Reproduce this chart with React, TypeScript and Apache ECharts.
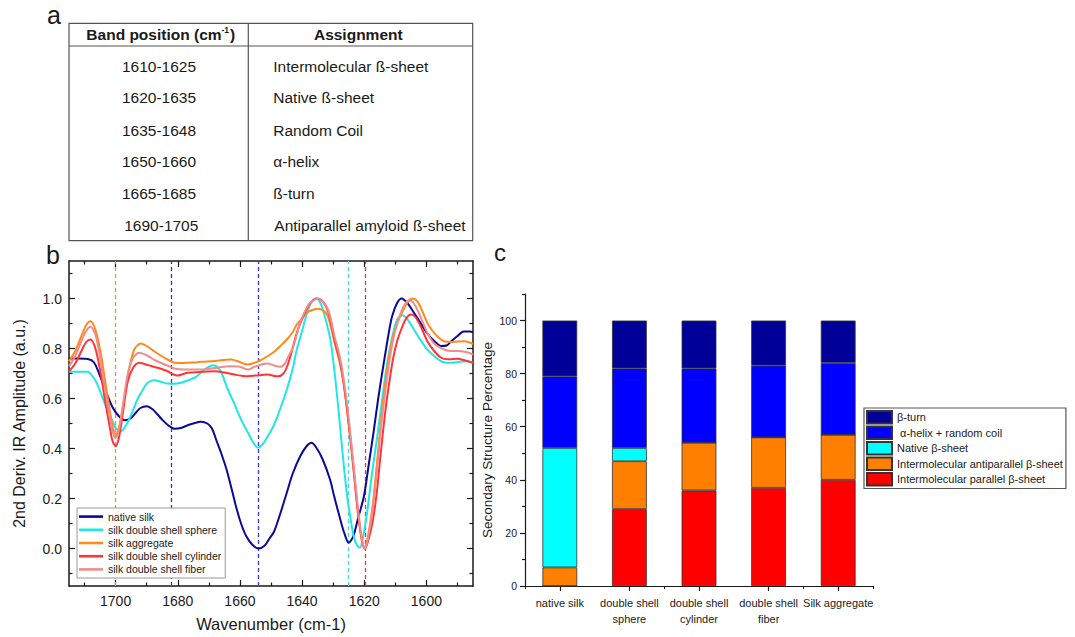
import React, { useEffect, useRef } from "react";
import * as echarts from "echarts";

// ---------- Panel a: table ----------
const bandPositions = ["1610-1625", "1620-1635", "1635-1648", "1650-1660", "1665-1685", "1690-1705"];
const assignments = ["Intermolecular ß-sheet", "Native ß-sheet", "Random Coil", "α-helix", "ß-turn", "Antiparallel amyloid ß-sheet"];

// ---------- Panel b: 2nd derivative spectra ([wavenumber, amplitude]) ----------
const nativeSilk = [
  [1715, 0.76], [1712, 0.76], [1709, 0.758], [1707, 0.745], [1705, 0.69], [1703, 0.625], [1701, 0.565], [1699, 0.53],
  [1697, 0.513], [1695, 0.522], [1693.5, 0.543], [1692, 0.562], [1690, 0.569], [1688, 0.556], [1686.5, 0.536], [1685, 0.515],
  [1683, 0.492], [1681, 0.479], [1679, 0.482], [1677, 0.492], [1675, 0.5], [1672.5, 0.507], [1670.5, 0.5], [1669, 0.48],
  [1667.5, 0.43], [1666, 0.38], [1664.3, 0.316], [1662.5, 0.23], [1661, 0.156], [1659.5, 0.095], [1658, 0.05], [1656, 0.015],
  [1654, 0.0], [1652, 0.012], [1650.5, 0.04], [1649, 0.068], [1647, 0.14], [1645, 0.22], [1643, 0.3], [1640.6, 0.369],
  [1638.5, 0.41], [1637, 0.423], [1635.5, 0.405], [1633.5, 0.36], [1631, 0.276], [1629.8, 0.215], [1627.7, 0.116], [1626.5, 0.065],
  [1625, 0.023], [1623.5, 0.05], [1622, 0.12], [1620.1, 0.209], [1618.5, 0.34], [1617, 0.465], [1615.5, 0.6], [1613.7, 0.743],
  [1612, 0.87], [1611, 0.93], [1609.5, 0.98], [1608, 1.0], [1606, 0.98], [1604, 0.943], [1602, 0.905], [1600, 0.865],
  [1597.5, 0.83], [1595.3, 0.81], [1593.5, 0.812], [1592, 0.829], [1590, 0.85], [1588, 0.868], [1586, 0.868], [1585, 0.865],
];
const doubleShellSphere = [
  [1715, 0.707], [1712, 0.707], [1709, 0.707], [1707.5, 0.69], [1706, 0.66], [1704.8, 0.623], [1703.5, 0.58], [1702, 0.54],
  [1700, 0.483], [1698.4, 0.469], [1696.2, 0.503], [1694.5, 0.55], [1693, 0.596], [1691, 0.64], [1689.7, 0.663], [1687.6, 0.673],
  [1685.5, 0.667], [1683.3, 0.66], [1681, 0.659], [1679, 0.663], [1676.8, 0.672], [1674.6, 0.683], [1673, 0.698], [1671.4, 0.716],
  [1669.5, 0.73], [1668.5, 0.733], [1667.2, 0.725], [1666, 0.705], [1663.9, 0.636], [1662, 0.585], [1660.6, 0.543], [1659, 0.5],
  [1657.4, 0.463], [1656, 0.43], [1654.2, 0.403], [1652.5, 0.42], [1651, 0.45], [1649.2, 0.49], [1647, 0.56], [1644.9, 0.636],
  [1643, 0.72], [1641.7, 0.796], [1640, 0.87], [1638.4, 0.943], [1637, 0.985], [1635.5, 1.0], [1634, 0.98], [1632.5, 0.92],
  [1630.9, 0.836], [1629.5, 0.7], [1628.2, 0.543], [1626.8, 0.36], [1625.5, 0.209], [1624.4, 0.12], [1623.4, 0.049], [1622.3, 0.012],
  [1621.4, 0.003], [1620.3, 0.05], [1619.1, 0.143], [1617.5, 0.3], [1615.8, 0.449], [1614.2, 0.6], [1612.6, 0.743], [1611, 0.845],
  [1609.4, 0.916], [1607.7, 0.933], [1606, 0.915], [1604, 0.876], [1602, 0.836], [1599.7, 0.796], [1597.5, 0.77], [1595.3, 0.749],
  [1593.5, 0.743], [1592, 0.743], [1590, 0.745], [1587.8, 0.749], [1585, 0.743],
];
const silkAggregate = [
  [1715, 0.749], [1713, 0.79], [1711, 0.85], [1709.5, 0.893], [1708.1, 0.909], [1706.5, 0.875], [1704.8, 0.783], [1703.5, 0.68],
  [1702.1, 0.569], [1701, 0.49], [1700, 0.455], [1699, 0.48], [1697.8, 0.556], [1696.5, 0.65], [1695.7, 0.716], [1694, 0.796],
  [1691.9, 0.82], [1690, 0.81], [1687.6, 0.789], [1685.5, 0.772], [1683.3, 0.756], [1681.1, 0.743], [1678, 0.742], [1675, 0.744],
  [1672.5, 0.747], [1668, 0.75], [1664.5, 0.755], [1662.8, 0.756], [1660.5, 0.748], [1658.5, 0.738], [1657.4, 0.736], [1655.5, 0.742],
  [1653.5, 0.752], [1651, 0.77], [1649.2, 0.785], [1647, 0.81], [1644.9, 0.836], [1643, 0.866], [1641.7, 0.896], [1640, 0.92],
  [1638.5, 0.943], [1636.5, 0.955], [1634.7, 0.959], [1633.2, 0.952], [1632, 0.936], [1631, 0.9], [1629.5, 0.82], [1628, 0.75],
  [1626.6, 0.66], [1625, 0.5], [1623.4, 0.32], [1622.2, 0.17], [1621.2, 0.07], [1620.5, 0.02], [1619.8, 0.0], [1619, 0.035],
  [1617.4, 0.16], [1616, 0.33], [1614.7, 0.5], [1613.3, 0.65], [1612, 0.77], [1610.7, 0.85], [1609.4, 0.9], [1608, 0.94],
  [1606, 0.985], [1604.5, 1.0], [1603, 0.99], [1601.5, 0.955], [1599.7, 0.903], [1598, 0.87], [1596, 0.843], [1594.3, 0.829],
  [1592, 0.826], [1590, 0.828], [1587.8, 0.829], [1585, 0.818],
];
const doubleShellCylinder = [
  [1715, 0.709], [1713, 0.74], [1711, 0.79], [1709.5, 0.825], [1708.1, 0.836], [1706.5, 0.8], [1704.8, 0.7], [1703.5, 0.6],
  [1702.1, 0.5], [1701, 0.43], [1700, 0.409], [1699, 0.44], [1697.8, 0.53], [1696.2, 0.663], [1694.5, 0.72], [1692.4, 0.743],
  [1690, 0.735], [1688, 0.728], [1686.5, 0.723], [1683.3, 0.709], [1681.5, 0.697], [1680, 0.692], [1678.5, 0.697], [1676.8, 0.703],
  [1672, 0.707], [1668.2, 0.709], [1665, 0.704], [1661.7, 0.696], [1659, 0.69], [1657.4, 0.689], [1655, 0.692], [1653, 0.694],
  [1651, 0.696], [1649, 0.69], [1647.6, 0.689], [1646, 0.7], [1644.9, 0.725], [1643.5, 0.78], [1642, 0.85], [1640.6, 0.9],
  [1638, 0.97], [1636.5, 0.993], [1635, 1.0], [1633.5, 0.99], [1632, 0.96], [1631, 0.92], [1629.5, 0.83], [1628, 0.76],
  [1626.6, 0.66], [1625, 0.5], [1623.4, 0.31], [1622.2, 0.16], [1621.2, 0.065], [1620.5, 0.018], [1619.8, 0.0], [1619, 0.02],
  [1617.4, 0.1], [1616, 0.22], [1614.7, 0.38], [1613.3, 0.54], [1612, 0.66], [1610.7, 0.76], [1609.4, 0.83], [1608, 0.88],
  [1606.5, 0.92], [1605, 0.936], [1603.5, 0.925], [1601.5, 0.88], [1599.7, 0.829], [1597.5, 0.79], [1595.3, 0.763], [1593, 0.757],
  [1590, 0.759], [1587.5, 0.752], [1585, 0.743],
];
const doubleShellFiber = [
  [1715, 0.729], [1713, 0.77], [1711, 0.83], [1709.5, 0.87], [1708.1, 0.887], [1706.5, 0.855], [1704.8, 0.75], [1703.5, 0.64],
  [1702.1, 0.54], [1701, 0.47], [1700, 0.443], [1699, 0.47], [1697.8, 0.56], [1696.2, 0.69], [1694.5, 0.76], [1692.4, 0.783],
  [1690, 0.773], [1687.6, 0.755], [1685, 0.74], [1683, 0.73], [1681.1, 0.72], [1678, 0.716], [1672.5, 0.716], [1668, 0.722],
  [1663, 0.729], [1660, 0.727], [1657.4, 0.716], [1655.5, 0.726], [1653.1, 0.736], [1651, 0.74], [1649, 0.732], [1647, 0.727],
  [1645.5, 0.74], [1644.5, 0.765], [1642.8, 0.809], [1640.6, 0.903], [1637.9, 0.976], [1635.5, 0.998], [1634.7, 1.0], [1633.5, 0.99],
  [1632, 0.965], [1631, 0.93], [1629.5, 0.845], [1628, 0.775], [1626.6, 0.676], [1625, 0.52], [1623.4, 0.329], [1622.2, 0.18],
  [1621.2, 0.076], [1620.5, 0.02], [1619.8, 0.0], [1619, 0.03], [1617.4, 0.143], [1616, 0.3], [1614.7, 0.476], [1613.3, 0.62],
  [1612, 0.743], [1610.7, 0.835], [1609.4, 0.9], [1608, 0.95], [1606.5, 0.985], [1605.6, 0.993], [1604, 0.98], [1602, 0.93],
  [1599.7, 0.863], [1597.5, 0.82], [1594.3, 0.796], [1592, 0.79], [1590, 0.79], [1587, 0.785], [1585, 0.776],
];
const spectrumNames = [
  "native silk",
  "silk double shell sphere",
  "silk aggregate",
  "silk double shell cylinder",
  "silk double shell fiber",
];
const markerWavenumbers = [1700, 1682, 1654, 1625.3, 1619.8];
const wavenumberLabels = [1600, 1620, 1640, 1660, 1680, 1700];
const wavenumberMinorTicks = [1590, 1610, 1630, 1650, 1670, 1690, 1710];
const amplitudeLabels = [0, 0.2, 0.4, 0.6, 0.8, 1.0];
const amplitudeMinorTicks = [-0.1, 0.1, 0.3, 0.5, 0.7, 0.9, 1.1];

// ---------- Panel c: secondary structure (%) ----------
const samples = ["native silk", "double shell\nsphere", "double shell\ncylinder", "double shell\nfiber", "Silk aggregate"];
const parallelSheet = [0, 29, 36, 37, 40];
const antiparallelSheet = [7, 18, 18, 19, 17];
const nativeSheet = [45, 5, 0, 0, 0];
const helixCoil = [27, 30, 28, 27, 27];
const betaTurn = [21, 18, 18, 17, 16];
const structureNames = [
  "Intermolecular parallel β-sheet",
  "Intermolecular antiparallel β-sheet",
  "Native β-sheet",
  " α-helix + random coil",
  "β-turn",
];
const percentLabels = [0, 20, 40, 60, 80, 100];
const percentMinorTicks = [10, 30, 50, 70, 90, 110];

const FONT = "'Liberation Sans', Arial, Helvetica, sans-serif";
const INK = "#1a1a1a";
const lineColors = ["#0a0a96", "#22e6e6", "#ff8a1c", "#ff3535", "#f28b8b"];
const markerColors = ["#e3964f", "#3535b8", "#3a3aff", "#4fd6d6", "#cc4444"];
const barColors = ["#ff0000", "#ff8000", "#00ffff", "#0000ff", "#000099"];

export default function App() {
  const ref = useRef<HTMLDivElement>(null);

  useEffect(() => {
    if (!ref.current) return;
    const chart = echarts.init(ref.current, undefined, { renderer: "svg" });

    const bValueX = { gridIndex: 0, type: "value", min: 1585, max: 1715, inverse: true, splitLine: { show: false } };
    const bValueY = { gridIndex: 0, type: "value", min: -0.15, max: 1.15, splitLine: { show: false } };
    const frameLine = { show: true, onZero: false, lineStyle: { color: INK, width: 1.5 } };
    const noLine = { show: false, onZero: false };
    const tick = (values: number[], len: number, inside: boolean) => ({
      show: true, inside, length: len, customValues: values, lineStyle: { color: INK, width: 1.2 },
    });

    const spectra = [nativeSilk, doubleShellSphere, silkAggregate, doubleShellCylinder, doubleShellFiber];
    const lineSeries = spectra.map((d, i) => ({
      type: "line",
      name: spectrumNames[i],
      xAxisIndex: 0,
      yAxisIndex: 0,
      data: d,
      symbol: "none",
      showSymbol: false,
      smooth: 0.3,
      color: lineColors[i],
      itemStyle: { color: lineColors[i] },
      lineStyle: { width: 2, color: lineColors[i] },
      z: 3,
      ...(i === 0
        ? {
            markLine: {
              silent: true,
              symbol: ["none", "none"],
              label: { show: false },
              lineStyle: { type: [4, 3], width: 1.3 },
              z: 2,
              data: markerWavenumbers.map((w, k) => ({
                xAxis: w,
                lineStyle: { color: markerColors[k], type: [4, 3], width: 1.3 },
              })),
            },
          }
        : {}),
    }));

    const structureData = [parallelSheet, antiparallelSheet, nativeSheet, helixCoil, betaTurn];
    const barSeries = structureData.map((d, i) => ({
      type: "bar",
      name: structureNames[i],
      xAxisIndex: 4,
      yAxisIndex: 4,
      stack: "structure",
      barWidth: "50%",
      data: d,
      itemStyle: { color: barColors[i], borderColor: "#333", borderWidth: 0.8 },
    }));

    const table: any[] = [
      { type: "rect", shape: { x: 69, y: 23.3, width: 403.7, height: 217.4 }, style: { fill: "none", stroke: "#555", lineWidth: 1.2 } },
      { type: "line", shape: { x1: 69, y1: 46, x2: 472.7, y2: 46 }, style: { stroke: "#555", lineWidth: 1.2 } },
      { type: "line", shape: { x1: 248.3, y1: 23.3, x2: 248.3, y2: 240.7 }, style: { stroke: "#555", lineWidth: 1.2 } },
      {
        type: "text", x: 160.8, y: 34,
        style: {
          text: "{b|Band position (cm}{s|-1}{b|)}",
          rich: {
            b: { fontSize: 15.5, fontWeight: "bold", fontFamily: FONT, fill: INK },
            s: { fontSize: 8.5, fontWeight: "bold", fontFamily: FONT, fill: INK, padding: [0, 1, 9, 0] },
          },
          align: "center", verticalAlign: "middle",
        },
      },
      {
        type: "text", x: 358.3, y: 34,
        style: { text: "Assignment", fontSize: 15.5, fontWeight: "bold", fontFamily: FONT, fill: INK, align: "center", verticalAlign: "middle" },
      },
      { type: "text", x: 47, y: 14.5, style: { text: "a", fontSize: 25, fontFamily: FONT, fill: INK, align: "left", verticalAlign: "middle" } },
      { type: "text", x: 46, y: 254.5, style: { text: "b", fontSize: 25, fontFamily: FONT, fill: INK, align: "left", verticalAlign: "middle" } },
      { type: "text", x: 494, y: 252, style: { text: "c", fontSize: 24, fontFamily: FONT, fill: INK, align: "left", verticalAlign: "middle" } },
    ];
    const rowY = [66, 97.7, 130, 161.7, 193.3, 225];
    bandPositions.forEach((b, i) => {
      table.push({
        type: "text", x: i === 5 ? 161.3 : 159, y: rowY[i],
        style: { text: b, fontSize: 15.5, fontFamily: FONT, fill: INK, align: "center", verticalAlign: "middle" },
      });
      table.push({
        type: "text", x: i === 5 ? 274.3 : 273.3, y: rowY[i],
        style: { text: assignments[i], fontSize: 15.5, fontFamily: FONT, fill: INK, align: "left", verticalAlign: "middle" },
      });
    });

    const option: any = {
      animation: false,
      backgroundColor: "#ffffff",
      textStyle: { fontFamily: FONT },
      grid: [
        { left: 69, top: 261, width: 404, height: 325 },
        { left: 525, top: 294, width: 348, height: 292 },
      ],
      xAxis: [
        {
          ...bValueX, position: "bottom", axisLine: frameLine,
          axisTick: tick(wavenumberLabels, 6, true),
          axisLabel: {
            show: true, customValues: wavenumberLabels, fontSize: 14, color: INK, margin: 8, fontFamily: FONT,
            formatter: (v: number) => String(Math.round(v)),
          },
          name: "Wavenumber (cm-1)", nameLocation: "middle", nameGap: 29,
          nameTextStyle: { fontSize: 16.5, color: INK, fontFamily: FONT },
        },
        { ...bValueX, position: "bottom", axisLine: noLine, axisTick: tick(wavenumberMinorTicks, 3.5, true), axisLabel: { show: false } },
        { ...bValueX, position: "top", axisLine: frameLine, axisTick: tick(wavenumberLabels, 6, true), axisLabel: { show: false } },
        { ...bValueX, position: "top", axisLine: noLine, axisTick: tick(wavenumberMinorTicks, 3.5, true), axisLabel: { show: false } },
        {
          gridIndex: 1, type: "category", data: samples, position: "bottom",
          axisLine: { show: true, onZero: false, lineStyle: { color: INK, width: 1.2 } },
          axisTick: { show: true, alignWithLabel: true, length: 5, lineStyle: { color: INK, width: 1.2 } },
          axisLabel: { interval: 0, fontSize: 11, lineHeight: 16, color: INK, margin: 9, fontFamily: FONT },
        },
        {
          gridIndex: 1, type: "category", data: samples, position: "bottom",
          axisLine: { show: false, onZero: false },
          axisTick: { show: true, alignWithLabel: false, length: 3, lineStyle: { color: INK, width: 1 } },
          axisLabel: { show: false },
        },
      ],
      yAxis: [
        {
          ...bValueY, position: "left", axisLine: frameLine,
          axisTick: tick(amplitudeLabels, 6, true),
          axisLabel: {
            show: true, customValues: amplitudeLabels, fontSize: 14, color: INK, margin: 7, fontFamily: FONT,
            formatter: (v: number) => v.toFixed(1),
          },
          name: "2nd Deriv. IR Amplitude (a.u.)", nameLocation: "middle", nameGap: 42, nameRotate: 90,
          nameTextStyle: { fontSize: 16, color: INK, fontFamily: FONT },
        },
        { ...bValueY, position: "left", axisLine: noLine, axisTick: tick(amplitudeMinorTicks, 3.5, true), axisLabel: { show: false } },
        { ...bValueY, position: "right", axisLine: frameLine, axisTick: tick(amplitudeLabels, 6, true), axisLabel: { show: false } },
        { ...bValueY, position: "right", axisLine: noLine, axisTick: tick(amplitudeMinorTicks, 3.5, true), axisLabel: { show: false } },
        {
          gridIndex: 1, type: "value", min: 0, max: 110, position: "left", splitLine: { show: false },
          axisLine: { show: true, onZero: false, lineStyle: { color: INK, width: 1.2 } },
          axisTick: tick(percentLabels, 5, false),
          axisLabel: { show: true, customValues: percentLabels, fontSize: 10.5, color: INK, margin: 8, fontFamily: FONT },
          name: "Secondary Structure Percentage", nameLocation: "middle", nameGap: 31, nameRotate: 90,
          nameTextStyle: { fontSize: 13.5, color: INK, fontFamily: FONT },
        },
        {
          gridIndex: 1, type: "value", min: 0, max: 110, position: "left", splitLine: { show: false },
          axisLine: { show: false, onZero: false },
          axisTick: tick(percentMinorTicks, 3, false),
          axisLabel: { show: false },
        },
      ],
      legend: [
        {
          data: spectrumNames,
          orient: "vertical",
          left: 77, top: 508,
          padding: [3, 4, 3, 2],
          icon: "rect",
          itemWidth: 24, itemHeight: 2.6, itemGap: 2,
          backgroundColor: "#ffffff",
          borderColor: "#999", borderWidth: 1,
          textStyle: { fontSize: 10.5, lineHeight: 11.2, color: INK, fontFamily: FONT },
        },
        {
          data: [...structureNames].reverse(),
          orient: "vertical",
          left: 864, top: 408,
          padding: [2, 3, 2, 2],
          itemWidth: 25, itemHeight: 12.5, itemGap: 1,
          icon: "rect",
          backgroundColor: "#ffffff",
          borderColor: "#555", borderWidth: 1.2,
          textStyle: { fontSize: 11, lineHeight: 12.5, color: INK, fontFamily: FONT },
        },
      ],
      series: [...lineSeries, ...barSeries],
      graphic: table,
    };

    chart.setOption(option);
    return () => chart.dispose();
  }, []);

  return (
    <div
      ref={ref}
      style={{ position: "absolute", left: 0, top: 0, width: 1075, height: 637, background: "#fff" }}
    />
  );
}
